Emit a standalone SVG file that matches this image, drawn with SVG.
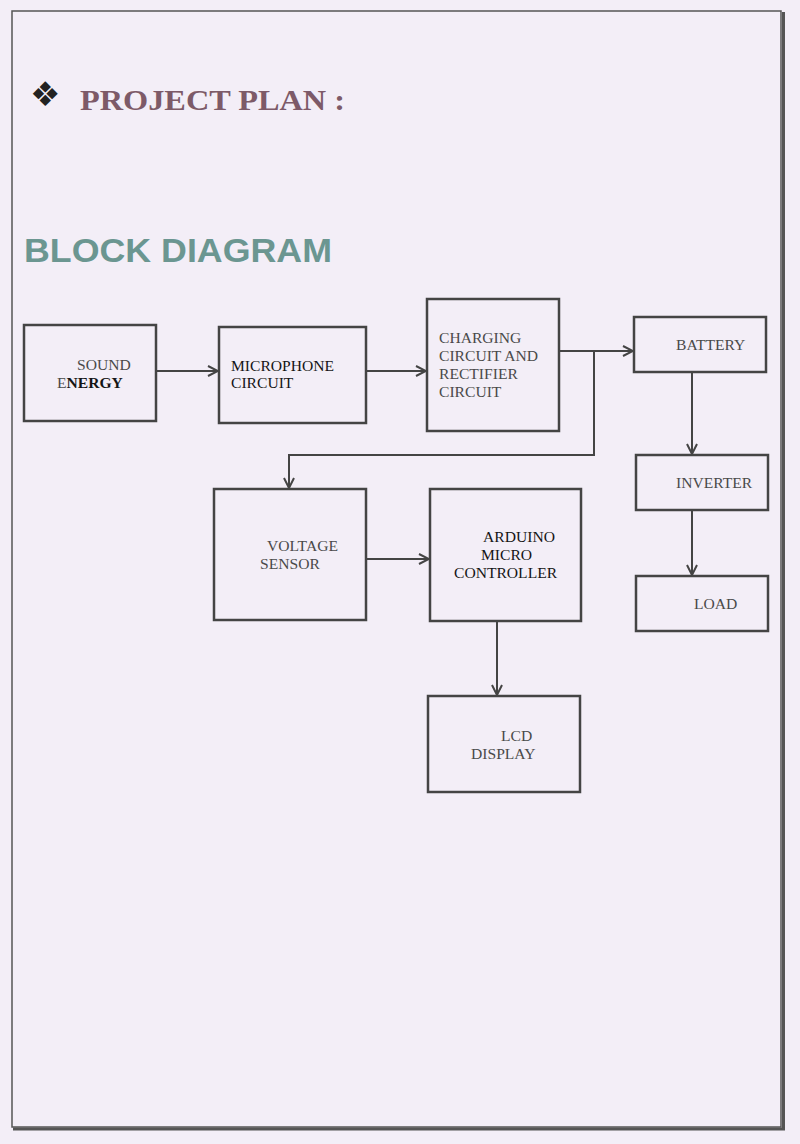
<svg xmlns="http://www.w3.org/2000/svg" width="800" height="1144" viewBox="0 0 800 1144">
<defs>
<style>
.box{fill:none;stroke:#444;stroke-width:2.5}
.t{font-family:"Liberation Serif","Times New Roman",serif;font-size:15.6px;fill:#4a4a4a}
.d{fill:#151515}
.c{fill:none;stroke:#444;stroke-width:2}
</style>
<marker id="arr" viewBox="0 0 12 12" refX="11" refY="6" markerWidth="12" markerHeight="12" markerUnits="userSpaceOnUse" orient="auto">
<path d="M1,1 L11,6 L1,11" fill="none" stroke="#444" stroke-width="2"/>
</marker>
</defs>
<rect x="0" y="0" width="800" height="1144" fill="#f3eef7"/>
<g id="page-border">
<rect x="12" y="11" width="769" height="1116" fill="none" stroke="#555" stroke-width="1.5"/>
<line x1="783.5" y1="12" x2="783.5" y2="1129" stroke="#555" stroke-width="3"/>
<line x1="13" y1="1129" x2="785" y2="1129" stroke="#555" stroke-width="3"/>
</g>
<g id="titles">
<text x="30" y="106" font-family="DejaVu Sans,sans-serif" font-size="34" fill="#222">❖</text>
<text x="80" y="110" font-family="Liberation Serif,serif" font-size="30" font-weight="bold" fill="#7d5a68" textLength="265" lengthAdjust="spacingAndGlyphs">PROJECT PLAN :</text>
<text x="24" y="262" font-family="Liberation Sans,sans-serif" font-size="34" font-weight="bold" fill="#6b9691" textLength="308" lengthAdjust="spacingAndGlyphs">BLOCK DIAGRAM</text>
</g>
<g id="connectors">
<line class="c" x1="156" y1="371" x2="218" y2="371" marker-end="url(#arr)"/>
<line class="c" x1="366" y1="371" x2="426" y2="371" marker-end="url(#arr)"/>
<line class="c" x1="559" y1="351" x2="633" y2="351" marker-end="url(#arr)"/>
<polyline class="c" points="594,351 594,455 289,455 289,488" marker-end="url(#arr)"/>
<line class="c" x1="366" y1="559" x2="429" y2="559" marker-end="url(#arr)"/>
<line class="c" x1="497" y1="621" x2="497" y2="695" marker-end="url(#arr)"/>
<line class="c" x1="692" y1="372" x2="692" y2="454" marker-end="url(#arr)"/>
<line class="c" x1="692" y1="510" x2="692" y2="575" marker-end="url(#arr)"/>
</g>
<g id="sound-energy">
<rect class="box" x="24" y="325" width="132" height="96"/>
<text class="t" x="77" y="370">SOUND</text>
<text class="t" x="57" y="388">E<tspan class="d" font-weight="bold">NERGY</tspan></text>
</g>
<g id="microphone-circuit">
<rect class="box" x="219" y="327" width="147" height="96"/>
<text class="t d" x="231" y="371">MICROPHONE</text>
<text class="t d" x="231" y="388">CIRCUIT</text>
</g>
<g id="charging-circuit">
<rect class="box" x="427" y="299" width="132" height="132"/>
<text class="t" x="439" y="343">CHARGING</text>
<text class="t" x="439" y="361">CIRCUIT AND</text>
<text class="t" x="439" y="379">RECTIFIER</text>
<text class="t" x="439" y="397">CIRCUIT</text>
</g>
<g id="battery">
<rect class="box" x="634" y="317" width="132" height="55"/>
<text class="t" x="676" y="350">BATTERY</text>
</g>
<g id="inverter">
<rect class="box" x="636" y="455" width="132" height="55"/>
<text class="t" x="676" y="488">INVERTER</text>
</g>
<g id="load">
<rect class="box" x="636" y="576" width="132" height="55"/>
<text class="t" x="694" y="609">LOAD</text>
</g>
<g id="voltage-sensor">
<rect class="box" x="214" y="489" width="152" height="131"/>
<text class="t" x="267" y="551">VOLTAGE</text>
<text class="t" x="260" y="569">SENSOR</text>
</g>
<g id="arduino">
<rect class="box" x="430" y="489" width="151" height="132"/>
<text class="t d" x="483" y="542">ARDUINO</text>
<text class="t d" x="481" y="560">MICRO</text>
<text class="t d" x="454" y="578">CONTROLLER</text>
</g>
<g id="lcd-display">
<rect class="box" x="428" y="696" width="152" height="96"/>
<text class="t" x="501" y="741">LCD</text>
<text class="t" x="471" y="759">DISPLAY</text>
</g>
</svg>
